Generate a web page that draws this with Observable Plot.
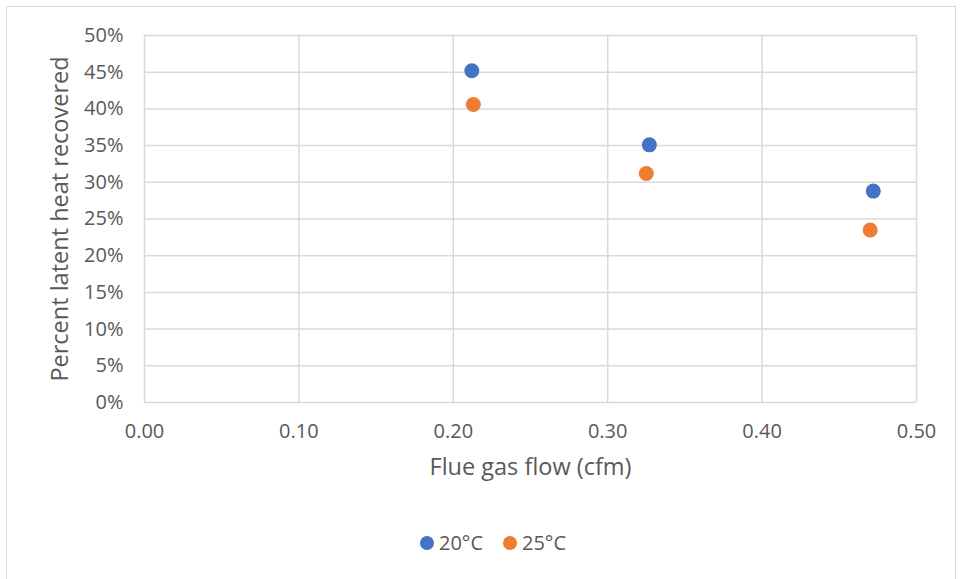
<!DOCTYPE html>
<html>
<head>
<meta charset="utf-8">
<script src="https://cdn.jsdelivr.net/npm/d3@7"></script>
<script src="https://cdn.jsdelivr.net/npm/@observablehq/plot@0.6"></script>
<style>
  html, body { margin: 0; padding: 0; background: #fff; }
  #wrap { position: relative; width: 960px; height: 579px; overflow: hidden; font-family: "Open Sans", sans-serif; }
  #border { position: absolute; left: 6px; top: 6px; width: 950px; height: 574px; border: 1.5px solid #D9D9D9; box-sizing: border-box; pointer-events: none; }
  #legend { display: flex; justify-content: center; gap: 20px; font-size: 20px; color: #595959; margin-top: 24px; padding-left: 26px; }
  #legend span.item { display: inline-flex; align-items: center; gap: 5px; }
  #legend span.sw { display: inline-block; width: 14px; height: 14px; border-radius: 50%; }
</style>
</head>
<body>
<div id="wrap"><div id="border"></div></div>
<script>
const series = ["20°C", "25°C"];
const colors = ["#4472C4", "#ED7D31"];
const flow20 = [0.212, 0.327, 0.472];
const pct20 = [0.452, 0.351, 0.288];
const flow25 = [0.213, 0.325, 0.470];
const pct25 = [0.406, 0.312, 0.235];
const xTicks = [0, 0.1, 0.2, 0.3, 0.4, 0.5];
const yTicks = [0, 0.05, 0.1, 0.15, 0.2, 0.25, 0.3, 0.35, 0.4, 0.45, 0.5];
const xLabel = "Flue gas flow (cfm)";
const yLabel = "Percent latent heat recovered";

const data = [
  ...flow20.map((f, i) => ({series: series[0], flow: f, pct: pct20[i]})),
  ...flow25.map((f, i) => ({series: series[1], flow: f, pct: pct25[i]}))
];

const chart = Plot.plot({
  width: 960,
  height: 505,
  marginLeft: 144,
  marginRight: 44,
  marginTop: 35,
  marginBottom: 103,
  style: {fontFamily: "'Open Sans', sans-serif", fontSize: "20px", color: "#595959", background: "transparent", overflow: "visible"},
  x: {domain: [0, 0.5]},
  y: {domain: [0, 0.5]},
  color: {domain: series, range: colors},
  marks: [
    Plot.gridX(xTicks, {stroke: "#D9D9D9", strokeOpacity: 1, strokeWidth: 1.5}),
    Plot.gridY(yTicks, {stroke: "#D9D9D9", strokeOpacity: 1, strokeWidth: 1.5}),
    Plot.axisX(xTicks, {tickSize: 0, tickPadding: 21, tickFormat: d => d.toFixed(2), label: null, fill: "#595959", fontSize: 20}),
    Plot.axisY(yTicks, {tickSize: 0, tickPadding: 21, tickFormat: d => Math.round(d * 100) + "%", label: null, fill: "#595959", fontSize: 20}),
    Plot.text([xLabel], {frameAnchor: "bottom", dy: 72, fontSize: 23.5, fill: "#595959", textAnchor: "middle"}),
    Plot.text([yLabel], {frameAnchor: "left", dx: -84, rotate: -90, fontSize: 23.5, fill: "#595959", textAnchor: "middle", lineAnchor: "middle"}),
    Plot.dot(data, {x: "flow", y: "pct", fill: "series", r: 7.5, stroke: "none"})
  ]
});

const wrap = document.getElementById("wrap");
wrap.insertBefore(chart, wrap.firstChild);

const legend = document.createElement("div");
legend.id = "legend";
series.forEach((s, i) => {
  const item = document.createElement("span");
  item.className = "item";
  const sw = document.createElement("span");
  sw.className = "sw";
  sw.style.background = colors[i];
  item.appendChild(sw);
  item.appendChild(document.createTextNode(s));
  legend.appendChild(item);
});
wrap.insertBefore(legend, chart.nextSibling);
</script>
</body>
</html>
